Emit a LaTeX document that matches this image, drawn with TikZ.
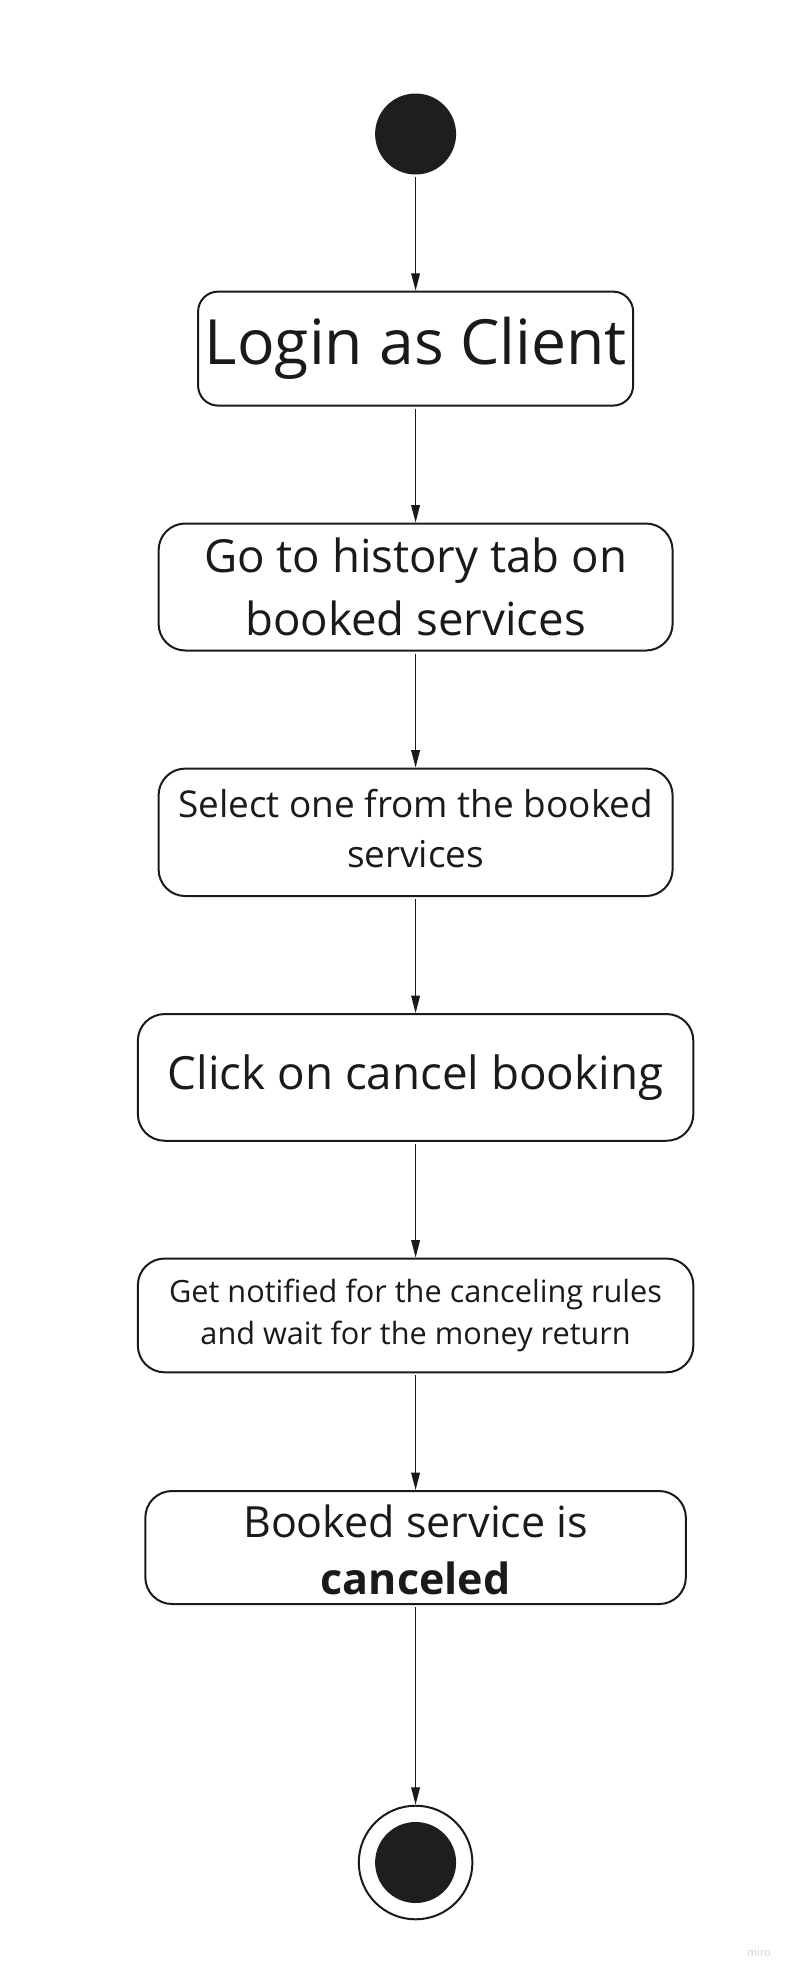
\documentclass[tikz,border=0pt]{standalone}
\usepackage{fontspec}
\setmainfont{Open Sans}
\usetikzlibrary{arrows.meta}
\definecolor{ink}{HTML}{1A1A1A}
\definecolor{dot}{HTML}{1E1E1E}
\definecolor{wm}{HTML}{D0D0D0}
\begin{document}
\begin{tikzpicture}[x=0.75pt,y=-0.75pt,
  state/.style={draw=ink, line width=1.5pt, rounded corners=20pt, align=center, text=ink, inner sep=0pt},
  lbl/.style={align=center, text=ink, inner sep=0pt},
  arr/.style={draw=ink, line width=0.9pt, -{Triangle[length=13pt,width=6.5pt]}, shorten <=1.5pt},
  ]
\useasboundingbox (0,0) rectangle (790,1975);
\node[circle, fill=dot, minimum size=60.75pt, inner sep=0pt] (start) at (415.6,134) {};
\node[state, rounded corners=15pt, minimum width=326.25pt, minimum height=85.5pt, font=\fontsize{46.8}{54}\selectfont] (login) at (415.6,348.6) {Login as Client};
\node[state, minimum width=385.5pt, minimum height=95.25pt, font=\fontsize{34.2}{47.5}\selectfont] (hist) at (415.6,587) {Go to history tab on\\booked services};
\node[state, minimum width=385.5pt, minimum height=95.6pt] (sel) at (415.6,832.3) {};
\node[lbl, font=\fontsize{27.7}{37.5}\selectfont] (selt) at (415.6,828.8) {Select one from the booked\\services};
\node[state, minimum width=416.6pt, minimum height=95pt, font=\fontsize{34.3}{44}\selectfont] (click) at (415.6,1077.4) {Click on cancel booking};
\node[state, minimum width=416.6pt, minimum height=85.3pt, font=\fontsize{23}{31}\selectfont] (notif) at (415.6,1315.4) {Get notified for the canceling rules\\and wait for the money return};
\node[state, minimum width=405.4pt, minimum height=84.75pt] (done) at (415.6,1547.5) {};
\node[lbl, font=\fontsize{32.25}{43}\selectfont] (donet) at (415.6,1550) {Booked service is\\\textbf{canceled}};
\node[circle, draw=ink, line width=1.5pt, fill=white, minimum size=85.2pt, inner sep=0pt] (endo) at (415.6,1862.5) {};
\node[circle, fill=dot, minimum size=60.75pt, inner sep=0pt] (endi) at (415.6,1862.5) {};
\node[text=wm, font=\fontsize{8.25}{10}\selectfont, anchor=base, inner sep=0pt] (wmk) at (759,1956.7) {miro};
\draw[arr] (start.south) -- (login.north);
\draw[arr] (login.south) -- (hist.north);
\draw[arr] (hist.south) -- (sel.north);
\draw[arr] (sel.south) -- (click.north);
\draw[arr] (click.south) -- (notif.north);
\draw[arr] (notif.south) -- (done.north);
\draw[arr] (done.south) -- (endo.north);
\end{tikzpicture}
\end{document}
